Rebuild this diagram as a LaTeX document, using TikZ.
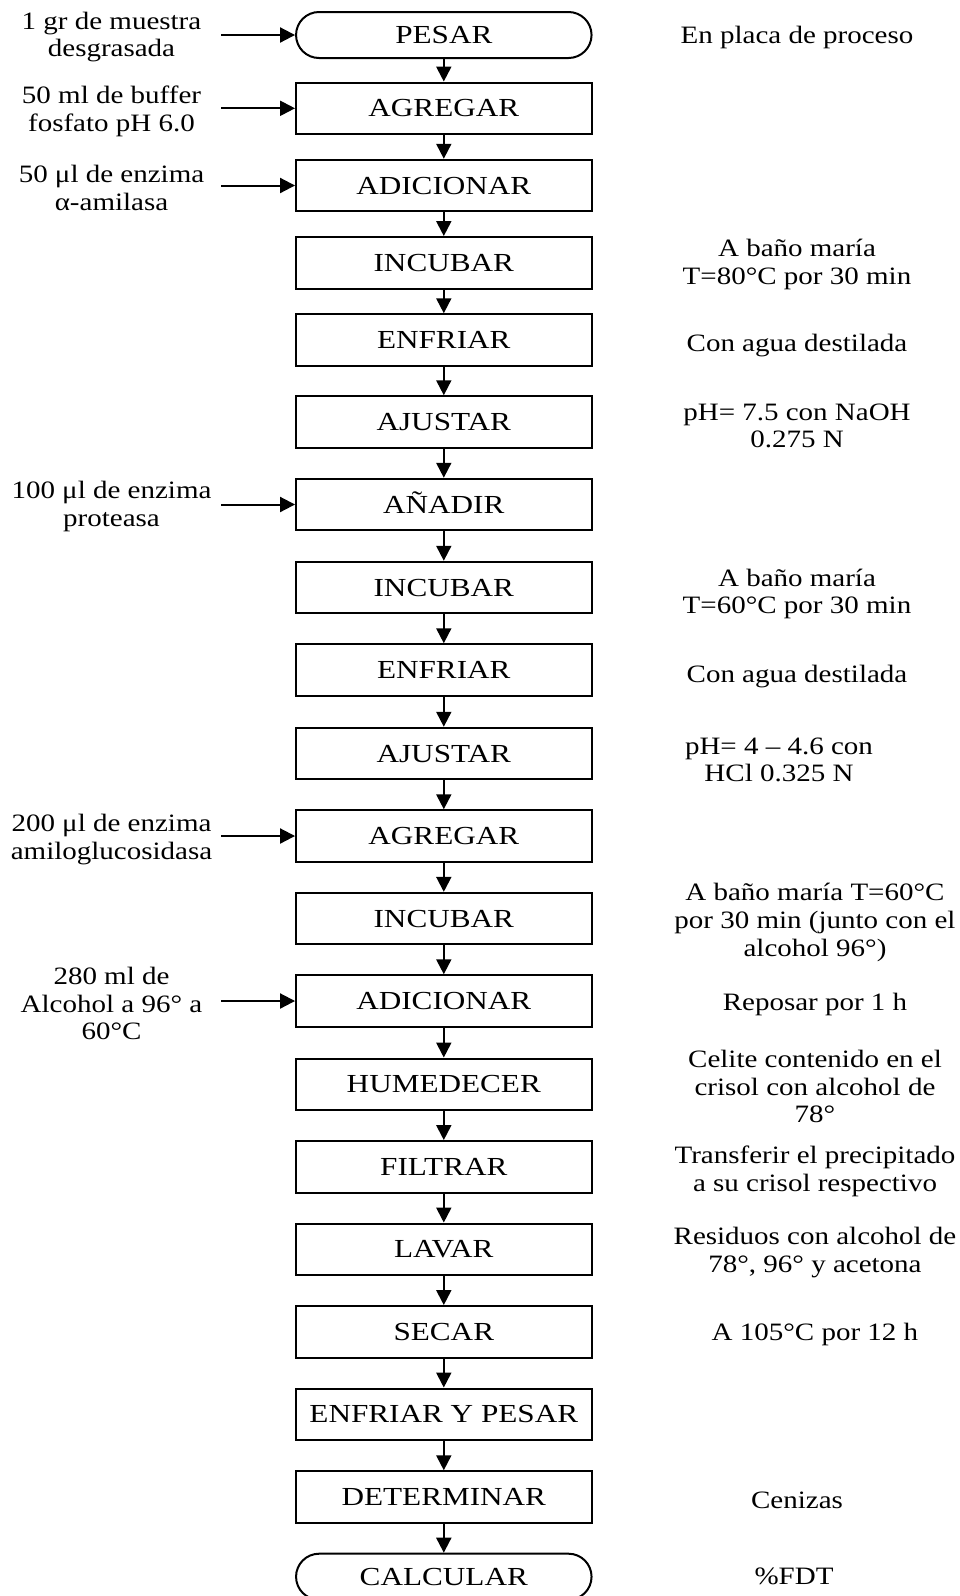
\documentclass[tikz,border=0pt]{standalone}
\usepackage{fontspec}
\setmainfont{Liberation Serif}[FakeStretch=1.16]
\newfontfamily\boxfont{Liberation Serif}[FakeStretch=1.20]
\usetikzlibrary{arrows.meta}
\begin{document}
\begin{tikzpicture}[x=1pt,y=-1pt,
  proc/.style={draw, line width=2pt, minimum width=295.5pt, minimum height=51.5pt, inner sep=0pt,
    font=\boxfont\fontsize{26}{28}\selectfont, text height=17pt, text depth=0pt},
  term/.style={proc, rounded corners=23pt, minimum height=46pt},
  side/.style={align=center, inner sep=0pt, font=\fontsize{25}{27.7}\selectfont},
  flow/.style={line width=2pt, -{Triangle[length=15pt,width=15pt]}}
]
\fill[white] (0,0) rectangle (960,1596);
\useasboundingbox (0,0) rectangle (960,1596);

% main column
\node[term] (n1)  at (443.8,35)     {PESAR};
\node[proc] (n2)  at (443.8,108.3)  {AGREGAR};
\node[proc] (n3)  at (443.8,185.5)  {ADICIONAR};
\node[proc] (n4)  at (443.8,262.8)  {INCUBAR};
\node[proc] (n5)  at (443.8,340)    {ENFRIAR};
\node[proc] (n6)  at (443.8,422)    {AJUSTAR};
\node[proc] (n7)  at (443.8,504.5)  {AÑADIR};
\node[proc] (n8)  at (443.8,587.5)  {INCUBAR};
\node[proc] (n9)  at (443.8,670)    {ENFRIAR};
\node[proc] (n10) at (443.8,753.5)  {AJUSTAR};
\node[proc] (n11) at (443.8,836)    {AGREGAR};
\node[proc] (n12) at (443.8,918.6)  {INCUBAR};
\node[proc] (n13) at (443.8,1001)   {ADICIONAR};
\node[proc] (n14) at (443.8,1084.3) {HUMEDECER};
\node[proc] (n15) at (443.8,1166.8) {FILTRAR};
\node[proc] (n16) at (443.8,1249.3) {LAVAR};
\node[proc] (n17) at (443.8,1331.8) {SECAR};
\node[proc] (n18) at (443.8,1414.3) {ENFRIAR Y PESAR};
\node[proc] (n19) at (443.8,1497)   {DETERMINAR};
\node[term] (n20) at (443.8,1576.7) {CALCULAR};

\foreach \a/\b in {n1/n2,n2/n3,n3/n4,n4/n5,n5/n6,n6/n7,n7/n8,n8/n9,n9/n10,n10/n11,
  n11/n12,n12/n13,n13/n14,n14/n15,n15/n16,n16/n17,n17/n18,n18/n19,n19/n20}
  \draw[flow] (\a) -- (\b);

% inputs on the left
\node[side] (i1) at (111.5,37)    {1 gr de muestra\\desgrasada};
\node[side] (i2) at (111.5,111.5) {50 ml de buffer\\fosfato pH 6.0};
\node[side] (i3) at (111.5,188)   {50 μl de enzima\\α-amilasa};
\node[side] (i4) at (111.5,506.5) {100 μl de enzima\\proteasa};
\node[side] (i5) at (111.5,839.5) {200 μl de enzima\\amiloglucosidasa};
\node[side] (i6) at (111.5,1003.5){280 ml de\\Alcohol a 96° a\\60°C};

\coordinate (c1) at (221,35);
\coordinate (c2) at (221,108.3);
\coordinate (c3) at (221,185.5);
\coordinate (c4) at (221,504.5);
\coordinate (c5) at (221,836);
\coordinate (c6) at (221,1001);
\draw[flow] (c1) -- (n1.west);
\draw[flow] (c2) -- (n2.west);
\draw[flow] (c3) -- (n3.west);
\draw[flow] (c4) -- (n7.west);
\draw[flow] (c5) -- (n11.west);
\draw[flow] (c6) -- (n13.west);

% notes on the right
\node[side] (r1)  at (797,37.5)   {En placa de proceso};
\node[side] (r2)  at (797,264.5)  {A baño maría\\T=80°C por 30 min};
\node[side] (r3)  at (797,346)    {Con agua destilada};
\node[side] (r4)  at (797,426)    {pH= 7.5 con NaOH\\0.275 N};
\node[side] (r5)  at (797,594)    {A baño maría\\T=60°C por 30 min};
\node[side] (r6)  at (797,677)    {Con agua destilada};
\node[side] (r7)  at (779,760)    {pH= 4 – 4.6 con\\HCl 0.325 N};
\node[side] (r8)  at (815,922.5)  {A baño maría T=60°C\\por 30 min (junto con el\\alcohol 96°)};
\node[side] (r9)  at (815,1004)   {Reposar por 1 h};
\node[side] (r10) at (815,1086.5) {Celite contenido en el\\crisol con alcohol de\\78°};
\node[side] (r11) at (815,1171)   {Transferir el precipitado\\a su crisol respectivo};
\node[side] (r12) at (815,1252.5) {Residuos con alcohol de\\78°, 96° y acetona};
\node[side] (r13) at (815,1334)   {A 105°C por 12 h};
\node[side] (r14) at (797,1500.5) {Cenizas};
\node[side] (r15) at (794,1576)   {\%FDT};
\end{tikzpicture}
\end{document}
